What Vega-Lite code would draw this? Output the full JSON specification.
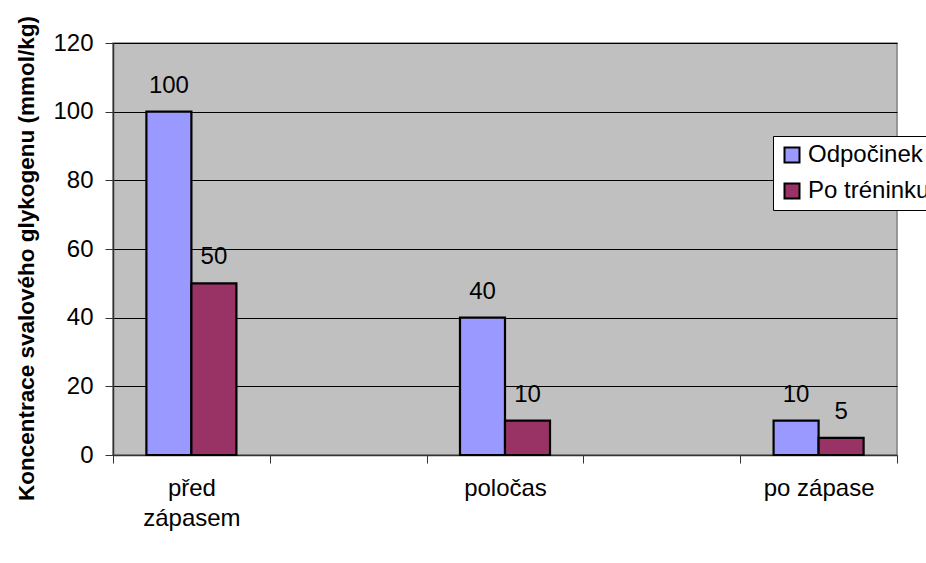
{
  "$schema": "https://vega.github.io/schema/vega-lite/v6.json",
  "width": 784,
  "height": 412,
  "autosize": {"type": "none"},
  "padding": {"left": 113, "top": 43, "right": 29, "bottom": 108},
  "background": "white",
  "config": {
    "font": "Liberation Sans",
    "view": {"fill": "#C0C0C0", "stroke": "#808080", "strokeWidth": 1.5}
  },
  "data": {
    "values": [
      {"faze": "před zápasem", "skupina": "Odpočinek", "hodnota": 100},
      {"faze": "před zápasem", "skupina": "Po tréninku", "hodnota": 50},
      {"faze": "poločas", "skupina": "Odpočinek", "hodnota": 40},
      {"faze": "poločas", "skupina": "Po tréninku", "hodnota": 10},
      {"faze": "po zápase", "skupina": "Odpočinek", "hodnota": 10},
      {"faze": "po zápase", "skupina": "Po tréninku", "hodnota": 5}
    ]
  },
  "encoding": {
    "x": {
      "field": "faze",
      "type": "nominal",
      "scale": {
        "domain": ["před zápasem", "mezera1", "poločas", "mezera2", "po zápase"],
        "paddingInner": 0,
        "paddingOuter": 0
      },
      "axis": {
        "title": null,
        "labelAngle": 0,
        "labelFontSize": 24,
        "labelColor": "black",
        "labelLineHeight": 30,
        "labelPadding": 13,
        "labelOverlap": false,
        "labelExpr": "datum.value == 'před zápasem' ? ['před', 'zápasem'] : ((datum.value == 'mezera1' || datum.value == 'mezera2') ? '' : datum.value)",
        "tickBand": "extent",
        "tickSize": 8,
        "tickColor": "#333333",
        "domainColor": "#333333",
        "domainWidth": 1.5,
        "grid": false
      }
    },
    "xOffset": {
      "field": "skupina",
      "type": "nominal",
      "scale": {"domain": ["Odpočinek", "Po tréninku"], "paddingInner": 0, "paddingOuter": 0.742}
    },
    "y": {
      "field": "hodnota",
      "type": "quantitative",
      "scale": {"domain": [0, 120], "nice": false},
      "axis": {
        "title": "Koncentrace svalového glykogenu (mmol/kg)",
        "titleFontSize": 22.5,
        "titleFontWeight": "bold",
        "titleColor": "black",
        "titlePadding": 14,
        "titleY": 215,
        "values": [0, 20, 40, 60, 80, 100, 120],
        "labelFontSize": 24,
        "labelColor": "black",
        "labelPadding": 12,
        "tickSize": 8,
        "tickColor": "#333333",
        "domainColor": "#333333",
        "domainWidth": 1.5,
        "grid": true,
        "gridColor": "black",
        "gridWidth": 1
      }
    }
  },
  "layer": [
    {
      "mark": {"type": "bar", "stroke": "black", "strokeWidth": 2.2},
      "encoding": {
        "color": {
          "field": "skupina",
          "type": "nominal",
          "scale": {"domain": ["Odpočinek", "Po tréninku"], "range": ["#9999FF", "#993366"]},
          "legend": {
            "title": null,
            "orient": "none",
            "legendX": 660,
            "legendY": 93,
            "fillColor": "white",
            "strokeColor": "black",
            "padding": 7,
            "symbolType": "square",
            "symbolSize": 225,
            "symbolStrokeColor": "black",
            "symbolStrokeWidth": 2,
            "symbolOpacity": 1,
            "labelFontSize": 24,
            "labelColor": "black",
            "labelOffset": 4,
            "rowPadding": 12
          }
        }
      }
    },
    {
      "mark": {"type": "text", "dy": -19, "baseline": "alphabetic", "fontSize": 24, "color": "black"},
      "encoding": {"text": {"field": "hodnota", "type": "quantitative"}}
    }
  ]
}
